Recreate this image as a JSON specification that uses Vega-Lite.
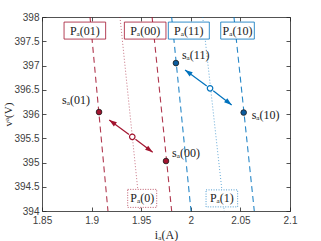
{
  "$schema": "https://vega.github.io/schema/vega-lite/v6.json",
  "autosize": "none",
  "width": 248,
  "height": 194,
  "padding": {"left": 42, "top": 17, "right": 31, "bottom": 30},
  "background": "white",
  "datasets": {
    "lines": [
      {"s": "P01", "g": "c", "style": "dash", "i": 1.8984, "v": 398},
      {"s": "P01", "g": "c", "style": "dash", "i": 1.9165, "v": 394},
      {"s": "P00", "g": "c", "style": "dash", "i": 1.9610, "v": 398},
      {"s": "P00", "g": "c", "style": "dash", "i": 1.9807, "v": 394},
      {"s": "P11", "g": "b", "style": "dash", "i": 1.9807, "v": 398},
      {"s": "P11", "g": "b", "style": "dash", "i": 2.0002, "v": 394},
      {"s": "P10", "g": "b", "style": "dash", "i": 2.0435, "v": 398},
      {"s": "P10", "g": "b", "style": "dash", "i": 2.0640, "v": 394},
      {"s": "P0", "g": "c", "style": "dot", "i": 1.9286, "v": 398},
      {"s": "P0", "g": "c", "style": "dot", "i": 1.9488, "v": 394},
      {"s": "P1", "g": "b", "style": "dot", "i": 2.0120, "v": 398},
      {"s": "P1", "g": "b", "style": "dot", "i": 2.0337, "v": 394}
    ],
    "arrows": [
      {"a": "c1", "g": "c", "i": 1.9377, "v": 395.578},
      {"a": "c1", "g": "c", "i": 1.9178, "v": 395.876},
      {"a": "c2", "g": "c", "i": 1.9442, "v": 395.48},
      {"a": "c2", "g": "c", "i": 1.9616, "v": 395.21},
      {"a": "b1", "g": "b", "i": 2.0161, "v": 396.579},
      {"a": "b1", "g": "b", "i": 1.9942, "v": 396.907},
      {"a": "b2", "g": "b", "i": 2.0226, "v": 396.48},
      {"a": "b2", "g": "b", "i": 2.0412, "v": 396.186}
    ],
    "heads": [
      {"a": "c1", "g": "c", "i": 1.9178, "v": 395.876, "ang": 306},
      {"a": "c2", "g": "c", "i": 1.9616, "v": 395.21, "ang": 127},
      {"a": "b1", "g": "b", "i": 1.9942, "v": 396.907, "ang": 306},
      {"a": "b2", "g": "b", "i": 2.0412, "v": 396.186, "ang": 128}
    ],
    "circles": [
      {"g": "c", "i": 1.941, "v": 395.53},
      {"g": "b", "i": 2.0194, "v": 396.53}
    ],
    "pts": [
      {"id": "01", "g": "c", "i": 1.9075, "v": 396.04, "txt": "sₐ(01)"},
      {"id": "00", "g": "c", "i": 1.975, "v": 395.03, "txt": "sₐ(00)"},
      {"id": "11", "g": "b", "i": 1.985, "v": 397.05, "txt": "sₐ(11)"},
      {"id": "10", "g": "b", "i": 2.0533, "v": 396.03, "txt": "sₐ(10)"}
    ],
    "boxes": [
      {"lab": "P01", "g": "c", "style": "solid", "i": 1.8932, "v": 397.72, "txt": "Pₐ(01)"},
      {"lab": "P00", "g": "c", "style": "solid", "i": 1.9540, "v": 397.72, "txt": "Pₐ(00)"},
      {"lab": "P11", "g": "b", "style": "solid", "i": 1.9980, "v": 397.72, "txt": "Pₐ(11)"},
      {"lab": "P10", "g": "b", "style": "solid", "i": 2.0471, "v": 397.72, "txt": "Pₐ(10)"},
      {"lab": "P0", "g": "c", "style": "dot", "i": 1.9510, "v": 394.26, "txt": "Pₐ(0)"},
      {"lab": "P1", "g": "b", "style": "dot", "i": 2.0313, "v": 394.26, "txt": "Pₐ(1)"}
    ]
  },
  "resolve": {"axis": {"x": "independent", "y": "independent"}},
  "layer": [
    {
      "data": {"name": "lines"},
      "transform": [{"filter": "datum.style == 'dash'"}],
      "mark": {"type": "line", "strokeDash": [6, 4], "strokeWidth": 1.1, "opacity": 0.85},
      "encoding": {
        "x": {"field": "i", "type": "quantitative",
              "scale": {"domain": [1.85, 2.1], "nice": false, "zero": false},
              "axis": {"orient": "bottom", "values": [1.85, 1.9, 1.95, 2, 2.05, 2.1], "format": "~f", "labelFlush": false, "labelPadding": 8, "title": "iₐ(A)", "titlePadding": 4}},
        "y": {"field": "v", "type": "quantitative",
              "scale": {"domain": [394, 398], "nice": false, "zero": false},
              "axis": {"orient": "left", "values": [394, 394.5, 395, 395.5, 396, 396.5, 397, 397.5, 398], "format": "~f", "labelFlush": false, "labelPadding": 7, "title": "vᵃ(V)", "titlePadding": 0, "titleFontSize": 11}},
        "detail": {"field": "s"},
        "color": {"field": "g", "type": "nominal", "scale": {"domain": ["c", "b"], "range": ["#A2142F", "#0072BD"]}, "legend": null}
      }
    },
    {
      "data": {"name": "lines"},
      "transform": [{"filter": "datum.style == 'dot'"}],
      "mark": {"type": "line", "strokeDash": [1, 2], "strokeWidth": 1, "opacity": 0.6},
      "encoding": {
        "x": {"field": "i", "type": "quantitative",
              "axis": {"orient": "top", "values": [1.85, 1.9, 1.95, 2, 2.05, 2.1], "labels": false, "title": null}},
        "y": {"field": "v", "type": "quantitative",
              "axis": {"orient": "right", "values": [394, 394.5, 395, 395.5, 396, 396.5, 397, 397.5, 398], "labels": false, "title": null}},
        "detail": {"field": "s"},
        "color": {"field": "g", "type": "nominal", "legend": null}
      }
    },
    {
      "data": {"name": "arrows"},
      "mark": {"type": "line", "strokeWidth": 1.2},
      "encoding": {
        "x": {"field": "i", "type": "quantitative", "axis": null},
        "y": {"field": "v", "type": "quantitative", "axis": null},
        "detail": {"field": "a"},
        "color": {"field": "g", "type": "nominal", "legend": null}
      }
    },
    {
      "data": {"name": "heads"},
      "mark": {"type": "point", "shape": "M0,0L0.55,1.6L-0.55,1.6Z", "filled": true, "size": 90, "opacity": 1},
      "encoding": {
        "x": {"field": "i", "type": "quantitative", "axis": null},
        "y": {"field": "v", "type": "quantitative", "axis": null},
        "angle": {"field": "ang", "type": "quantitative", "scale": null},
        "color": {"field": "g", "type": "nominal", "legend": null}
      }
    },
    {
      "data": {"name": "circles"},
      "mark": {"type": "point", "shape": "circle", "filled": false, "size": 30, "strokeWidth": 1.2, "fill": "white", "opacity": 1},
      "encoding": {
        "x": {"field": "i", "type": "quantitative", "axis": null},
        "y": {"field": "v", "type": "quantitative", "axis": null},
        "stroke": {"field": "g", "type": "nominal", "scale": {"domain": ["c", "b"], "range": ["#A2142F", "#0072BD"]}, "legend": null}
      }
    },
    {
      "data": {"name": "pts"},
      "mark": {"type": "point", "shape": "circle", "filled": true, "size": 32, "stroke": "#1a1a1a", "strokeWidth": 0.8, "opacity": 1},
      "encoding": {
        "x": {"field": "i", "type": "quantitative", "axis": null},
        "y": {"field": "v", "type": "quantitative", "axis": null},
        "fill": {"field": "g", "type": "nominal", "scale": {"domain": ["c", "b"], "range": ["#A2142F", "#0B5C9E"]}, "legend": null}
      }
    },
    {
      "data": {"name": "pts"},
      "transform": [{"filter": "datum.id == '01'"}],
      "mark": {"type": "text", "align": "right", "baseline": "middle", "dx": -9, "dy": -12, "font": "Liberation Serif", "fontSize": 12, "color": "#1a1a1a"},
      "encoding": {
        "x": {"field": "i", "type": "quantitative", "axis": null},
        "y": {"field": "v", "type": "quantitative", "axis": null},
        "text": {"field": "txt"}
      }
    },
    {
      "data": {"name": "pts"},
      "transform": [{"filter": "datum.id == '00' || datum.id == '11'"}],
      "mark": {"type": "text", "align": "left", "baseline": "middle", "dx": 6, "dy": -8.5, "font": "Liberation Serif", "fontSize": 12, "color": "#1a1a1a"},
      "encoding": {
        "x": {"field": "i", "type": "quantitative", "axis": null},
        "y": {"field": "v", "type": "quantitative", "axis": null},
        "text": {"field": "txt"}
      }
    },
    {
      "data": {"name": "pts"},
      "transform": [{"filter": "datum.id == '10'"}],
      "mark": {"type": "text", "align": "left", "baseline": "middle", "dx": 8, "dy": 2, "font": "Liberation Serif", "fontSize": 12, "color": "#1a1a1a"},
      "encoding": {
        "x": {"field": "i", "type": "quantitative", "axis": null},
        "y": {"field": "v", "type": "quantitative", "axis": null},
        "text": {"field": "txt"}
      }
    },
    {
      "data": {"name": "boxes"},
      "transform": [{"filter": "datum.style == 'solid'"}],
      "mark": {"type": "point", "filled": false, "fill": "white", "fillOpacity": 1, "size": 400, "strokeWidth": 1, "opacity": 1, "strokeOpacity": 0.8},
      "encoding": {
        "x": {"field": "i", "type": "quantitative", "axis": null},
        "y": {"field": "v", "type": "quantitative", "axis": null},
        "shape": {"field": "lab", "type": "nominal", "legend": null,
                  "scale": {"domain": ["P01", "P00", "P11", "P10", "P0", "P1"],
                            "range": ["M-2.08,-0.85H2.08V0.85H-2.08Z", "M-2.08,-0.85H2.08V0.85H-2.08Z", "M-2.05,-0.85H2.05V0.85H-2.05Z", "M-1.68,-0.85H1.68V0.85H-1.68Z", "M-1.45,-0.9H1.45V0.9H-1.45Z", "M-1.58,-0.85H1.58V0.85H-1.58Z"]}},
        "stroke": {"field": "g", "type": "nominal", "legend": null}
      }
    },
    {
      "data": {"name": "boxes"},
      "transform": [{"filter": "datum.style == 'dot'"}],
      "mark": {"type": "point", "filled": false, "fill": "white", "fillOpacity": 1, "size": 400, "strokeWidth": 1, "strokeDash": [1, 1.5], "opacity": 1, "strokeOpacity": 0.7},
      "encoding": {
        "x": {"field": "i", "type": "quantitative", "axis": null},
        "y": {"field": "v", "type": "quantitative", "axis": null},
        "shape": {"field": "lab", "type": "nominal", "legend": null},
        "stroke": {"field": "g", "type": "nominal", "legend": null}
      }
    },
    {
      "data": {"name": "boxes"},
      "mark": {"type": "text", "align": "center", "baseline": "middle", "font": "Liberation Serif", "fontSize": 12, "color": "#1a1a1a"},
      "encoding": {
        "x": {"field": "i", "type": "quantitative", "axis": null},
        "y": {"field": "v", "type": "quantitative", "axis": null},
        "text": {"field": "txt"}
      }
    }
  ],
  "config": {
    "view": {"stroke": null},
    "axis": {
      "domainColor": "#262626", "tickColor": "#262626", "labelColor": "#404040",
      "labelFont": "Liberation Sans", "labelFontSize": 10,
      "titleFont": "Liberation Serif", "titleFontSize": 12, "titleFontWeight": "normal", "titleColor": "#262626",
      "grid": false, "tickSize": -4, "domainWidth": 0.8, "tickWidth": 0.8
    }
  }
}
